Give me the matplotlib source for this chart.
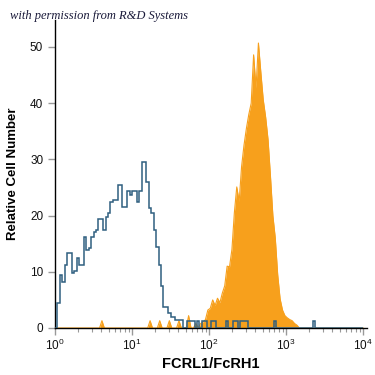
import numpy as np
import matplotlib
matplotlib.use("Agg")
import matplotlib.pyplot as plt
from matplotlib.ticker import LogLocator, NullFormatter

plt.rcParams['font.family'] = ['Liberation Sans Narrow', 'Liberation Sans', 'DejaVu Sans']
plt.rcParams['mathtext.fontset'] = 'custom'
plt.rcParams['mathtext.rm'] = 'Liberation Sans'
plt.rcParams['mathtext.it'] = 'Liberation Sans'

# ---- data: 128 log bins (1/32 decade) from 10^0 to 10^4 ----
n_bins = 128
decades = 4

isotype = [0] * n_bins
isotype_vals = {
    1: 4.4, 2: 9.4, 3: 8.1, 4: 11.2, 5: 13.3, 6: 13.3, 7: 9.8, 8: 10.1, 9: 12.4,
    10: 11.2, 11: 11.2, 12: 16.2, 13: 13.9, 14: 14.2, 15: 16.2, 16: 17.1, 17: 17.4,
    18: 19.4, 19: 19.4, 20: 17.4, 21: 19.8, 22: 20.5, 23: 22.5, 24: 22.8, 25: 22.8,
    26: 25.4, 27: 25.4, 28: 21.6, 29: 21.6, 30: 24.3, 31: 23.7, 32: 24.3, 33: 24.3,
    34: 22.5, 35: 24.3, 36: 29.6, 37: 29.6, 38: 26.0, 39: 21.3, 40: 20.5, 41: 17.4,
    42: 14.5, 43: 11.2, 44: 7.4, 45: 3.8, 46: 3.8, 47: 2.6, 48: 2.0, 49: 2.0,
    50: 1.4, 51: 1.4, 52: 1.4, 53: 0, 54: 0, 55: 1.2, 56: 1.2, 57: 1.2, 59: 1.2,
    61: 1.2, 62: 1.2, 65: 1.2, 66: 1.2, 71: 1.2, 74: 1.2, 75: 1.2, 77: 1.2,
    78: 1.2, 79: 1.2, 91: 1.2, 107: 1.2,
}
for k, v in isotype_vals.items():
    isotype[k] = v

fcrl1 = [0] * n_bins
fcrl1_vals = {
    19: 1.3, 39: 1.3, 43: 1.3, 47: 1.3, 51: 1.3, 55: 2.2, 58: 0.8, 60: 0.8,
    61: 1.0, 62: 1.5, 63: 3.2, 64: 3.5, 65: 5.0, 66: 4.0, 67: 5.3, 68: 4.5,
    69: 6.2, 70: 7.5, 71: 11.0, 72: 10.9, 73: 14.0, 74: 20.5, 75: 25.1, 76: 22.5,
    77: 28.7, 78: 32.5, 79: 35.5, 80: 38.0, 81: 40.0, 82: 48.6, 83: 42.7,
    84: 50.7, 85: 45.5, 86: 40.6, 87: 37.5, 88: 33.5, 89: 27.0, 90: 20.0,
    91: 16.0, 92: 9.5, 93: 5.2, 94: 3.2, 95: 2.2, 96: 1.8, 97: 1.5, 98: 1.3,
    99: 0.8, 100: 0.5,
}
for k, v in fcrl1_vals.items():
    fcrl1[k] = v

xtick_vals = [1, 10, 100, 1000, 10000]
xtick_labels = [r'$\mathregular{10^{0}}$', r'$\mathregular{10^{1}}$', r'$\mathregular{10^{2}}$',
                r'$\mathregular{10^{3}}$', r'$\mathregular{10^{4}}$']
ytick_vals = [0, 10, 20, 30, 40, 50]

edges = 10 ** (np.arange(n_bins + 1) * decades / n_bins)
centers = 10 ** ((np.arange(n_bins) + 0.5) * decades / n_bins)

fig = plt.figure(figsize=(3.75, 3.75), dpi=100)
ax = fig.add_axes([55 / 375, 1 - 328 / 375, (367 - 55) / 375, 308 / 375])

orange = '#f7a01c'
blue = '#2f5f80'

xs = np.concatenate([[1], centers, [10 ** decades]])
ys = np.concatenate([[0], fcrl1, [0]])
ax.fill_between(xs, ys, 0, color=orange, lw=0, zorder=2)
ax.plot(xs, ys, color=orange, lw=0.8, zorder=2)
ax.stairs(isotype, edges, color=blue, lw=1.1, zorder=3)

ax.set_xscale('log')
ax.set_xlim(1, 10 ** 4.05)
ax.set_ylim(0, 54.8)

ax.set_xticks(xtick_vals, xtick_labels)
ax.xaxis.set_minor_locator(LogLocator(base=10, subs=np.arange(2, 10)))
ax.xaxis.set_minor_formatter(NullFormatter())
ax.set_yticks(ytick_vals)

for s in ['top', 'right']:
    ax.spines[s].set_visible(False)
for s in ['left', 'bottom']:
    ax.spines[s].set_linewidth(1.0)
    ax.spines[s].set_color('black')

ax.tick_params(axis='both', which='major', direction='out', color='#999999',
               length=5, width=1, labelsize=8.5, labelcolor='#111111')
ax.tick_params(axis='x', which='minor', direction='out', color='#999999',
               length=3, width=0.8)
ax.tick_params(axis='x', which='major', pad=2)

ax.set_xlabel('FCRL1/FcRH1', fontsize=10.5, fontweight='bold', labelpad=3)
ax.set_ylabel('Relative Cell Number', fontsize=9.5, fontweight='bold', labelpad=8)

fig.text(10 / 375, 1 - 16 / 375, 'with permission from R&D Systems',
         fontsize=9, style='italic', family='Liberation Serif', color='#1a1a3a',
         va='center', ha='left')

fig.savefig('out.png', dpi=100)
